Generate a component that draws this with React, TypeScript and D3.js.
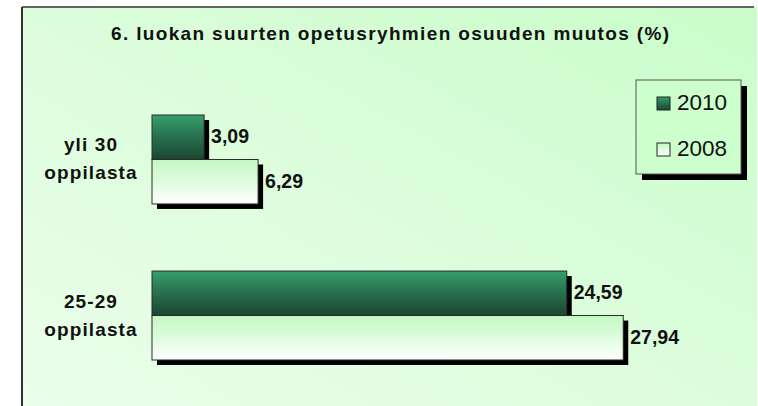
import React from 'react';
import { scaleBand, scaleLinear } from 'd3';

const title = '6. luokan suurten opetusryhmien osuuden muutos (%)';
const categories = ['yli 30', '25-29'];
const categorySub = ['oppilasta', 'oppilasta'];
const years = ['2010', '2008'];
const values2010 = [3.09, 24.59];
const values2008 = [6.29, 27.94];

const fmt = (v: number) => v.toFixed(2).replace('.', ',');
const font = "'Liberation Sans', Arial, sans-serif";

const App: React.FC = () => {
  const width = 758;
  const height = 406;

  const x = scaleLinear().domain([0, 30]).range([152, 658]);

  const y = scaleBand<string>()
    .domain(categories)
    .range([37, 438])
    .paddingInner(0.43)
    .paddingOuter(0.5);

  const ySub = scaleBand<string>()
    .domain(years)
    .range([0, y.bandwidth()]);

  const seriesValues: Record<string, number[]> = { '2010': values2010, '2008': values2008 };
  const fills: Record<string, string> = { '2010': 'url(#g2010)', '2008': 'url(#g2008)' };
  const shadow = 5;

  return (
    <div style={{ position: 'absolute', left: 0, top: 0 }}>
      <svg width={width} height={height} style={{ display: 'block' }}>
        <defs>
          <linearGradient id="bg" x1="0" y1="1" x2="1" y2="0">
            <stop offset="0" stopColor="#ebfeeb" />
            <stop offset="0.5" stopColor="#dcfddc" />
            <stop offset="1" stopColor="#c9fdc9" />
          </linearGradient>
          <linearGradient id="g2010" x1="0" y1="0" x2="0" y2="1">
            <stop offset="0" stopColor="#36a06d" />
            <stop offset="0.35" stopColor="#2b7d55" />
            <stop offset="1" stopColor="#1a4631" />
          </linearGradient>
          <linearGradient id="g2008" x1="0" y1="0" x2="0" y2="1">
            <stop offset="0" stopColor="#c4f8c4" />
            <stop offset="0.4" stopColor="#d8fbd8" />
            <stop offset="1" stopColor="#ffffff" />
          </linearGradient>
        </defs>

        <rect x={0} y={0} width={width} height={height} fill="#ffffff" />
        <rect x={22} y={7} width={735} height={height} fill="url(#bg)" />
        <line x1={22} y1={7} x2={754} y2={7} stroke="#333" strokeWidth={1.5} />
        <line x1={22} y1={7} x2={22} y2={height} stroke="#333" strokeWidth={2} />

        <text
          x={390}
          y={40}
          textAnchor="middle"
          fontFamily={font}
          fontWeight="bold"
          fontSize={19}
          textLength={558}
          lengthAdjust="spacing"
          fill="#111"
        >
          {title}
        </text>

        {/* shadows */}
        {categories.map((c, i) =>
          years.map(yr => {
            const v = seriesValues[yr][i];
            const y0 = (y(c) ?? 0) + (ySub(yr) ?? 0);
            return (
              <rect
                key={`s-${c}-${yr}`}
                x={x(0) + shadow}
                y={y0 + shadow}
                width={x(v) - x(0)}
                height={ySub.bandwidth()}
                fill="#000"
              />
            );
          })
        )}

        {/* bars */}
        {categories.map((c, i) =>
          years.map(yr => {
            const v = seriesValues[yr][i];
            const y0 = (y(c) ?? 0) + (ySub(yr) ?? 0);
            return (
              <g key={`b-${c}-${yr}`}>
                <rect
                  x={x(0)}
                  y={y0}
                  width={x(v) - x(0)}
                  height={ySub.bandwidth()}
                  fill={fills[yr]}
                  stroke="#2a2a2a"
                  strokeWidth={1}
                />
                <text
                  x={x(v) + 7}
                  y={y0 + ySub.bandwidth() / 2 + 6}
                  fontFamily={font}
                  fontWeight="bold"
                  fontSize={19.5}
                  fill="#111"
                >
                  {fmt(v)}
                </text>
              </g>
            );
          })
        )}

        {/* category labels */}
        {categories.map((c, i) => {
          const cy = (y(c) ?? 0) + y.bandwidth() / 2;
          return (
            <text
              key={`c-${c}`}
              x={91}
              textAnchor="middle"
              fontFamily={font}
              fontWeight="bold"
              fontSize={19}
              letterSpacing={1.1}
              fill="#111"
            >
              <tspan x={91} y={cy - 8}>{c}</tspan>
              <tspan x={91} y={cy + 20}>{categorySub[i]}</tspan>
            </text>
          );
        })}

        {/* legend */}
        <g>
          <rect x={642} y={86} width={105} height={94} fill="#000" />
          <rect x={636} y={80} width={105} height={94} fill="#ccffcc" stroke="#555" strokeWidth={1} />
          {years.map((yr, i) => (
            <g key={`l-${yr}`} transform={`translate(657, ${97 + i * 46})`}>
              <rect x={0} y={0} width={13} height={13} fill={fills[yr]} stroke="#222" strokeWidth={1} />
              <text
                x={20}
                y={13}
                fontFamily={font}
                fontSize={22.5}
                fill="#111"
              >
                {yr}
              </text>
            </g>
          ))}
        </g>
      </svg>
    </div>
  );
};

export default App;
